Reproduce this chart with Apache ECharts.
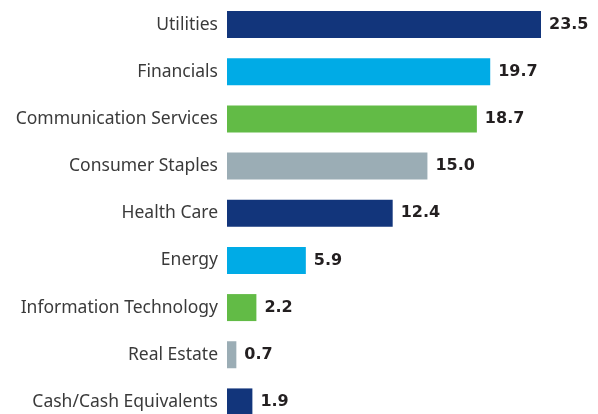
<!DOCTYPE html>
<html>
<head>
<meta charset="utf-8">
<script src="https://cdn.jsdelivr.net/npm/echarts@6/dist/echarts.min.js"></script>
<style>
  html, body { margin: 0; padding: 0; background: #fff; }
  #chart { width: 598px; height: 414px; }
</style>
</head>
<body>
<div id="chart"></div>
<script>
  // sectors, top to bottom
  var categories = ['Utilities', 'Financials', 'Communication Services', 'Consumer Staples',
    'Health Care', 'Energy', 'Information Technology', 'Real Estate', 'Cash/Cash Equivalents'];
  var values = [23.5, 19.7, 18.7, 15.0, 12.4, 5.9, 2.2, 0.7, 1.9];
  var barColors = ['#12357b', '#00abe6', '#62bb46', '#9badb5',
    '#12357b', '#00abe6', '#62bb46', '#9badb5', '#12357b'];

  var myChart = echarts.init(document.getElementById('chart'));
  myChart.setOption({
    animation: false,
    grid: {
      left: 227,
      top: 1,
      width: 314,
      height: 424.5,
      outerBoundsMode: 'none'
    },
    xAxis: {
      type: 'value',
      min: 0,
      max: 23.5,
      show: false
    },
    yAxis: {
      type: 'category',
      inverse: true,
      data: categories,
      axisLine: { show: false },
      axisTick: { show: false },
      axisLabel: {
        margin: 9,
        color: '#3a3a3a',
        fontFamily: 'Noto Sans',
        fontSize: 17.5
      }
    },
    series: [{
      type: 'bar',
      barWidth: 27,
      data: values.map(function (v, i) {
        return { value: v, itemStyle: { color: barColors[i] } };
      }),
      label: {
        show: true,
        position: 'right',
        distance: 8,
        color: '#231f20',
        fontFamily: 'DejaVu Sans',
        fontWeight: 'bold',
        fontSize: 16,
        formatter: function (p) { return p.value.toFixed(1); }
      }
    }]
  });
</script>
</body>
</html>
